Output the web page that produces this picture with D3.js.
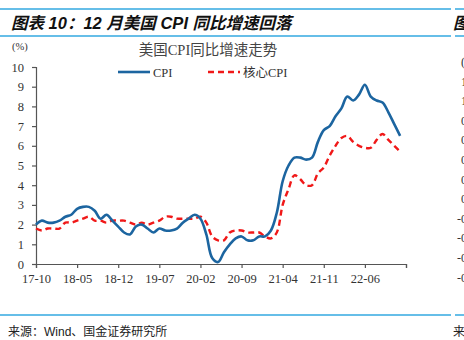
<!DOCTYPE html>
<html>
<head>
<meta charset="utf-8">
<script src="https://cdn.jsdelivr.net/npm/d3@7/dist/d3.min.js"></script>
<style>
  html, body { margin: 0; padding: 0; background: #fff; }
  svg { display: block; }
</style>
</head>
<body>
<svg id="chart" width="464" height="340"></svg>
<script>
// Monthly US CPI and core CPI, year-on-year (%), 2017-10 through 2022-12
const months = [
  "17-10","17-11","17-12",
  "18-01","18-02","18-03","18-04","18-05","18-06","18-07","18-08","18-09","18-10","18-11","18-12",
  "19-01","19-02","19-03","19-04","19-05","19-06","19-07","19-08","19-09","19-10","19-11","19-12",
  "20-01","20-02","20-03","20-04","20-05","20-06","20-07","20-08","20-09","20-10","20-11","20-12",
  "21-01","21-02","21-03","21-04","21-05","21-06","21-07","21-08","21-09","21-10","21-11","21-12",
  "22-01","22-02","22-03","22-04","22-05","22-06","22-07","22-08","22-09","22-10","22-11","22-12"
];
const cpi = [
  2.0, 2.2, 2.1,
  2.1, 2.2, 2.4, 2.5, 2.8, 2.9, 2.9, 2.7, 2.3, 2.5, 2.2, 1.9,
  1.6, 1.5, 1.9, 2.0, 1.8, 1.6, 1.8, 1.7, 1.7, 1.8, 2.1, 2.3,
  2.5, 2.3, 1.5, 0.3, 0.1, 0.6, 1.0, 1.3, 1.4, 1.2, 1.2, 1.4,
  1.4, 1.7, 2.6, 4.2, 5.0, 5.4, 5.4, 5.3, 5.4, 6.2, 6.8, 7.0,
  7.5, 7.9, 8.5, 8.3, 8.6, 9.1, 8.5, 8.3, 8.2, 7.7, 7.1, 6.5
];
const coreCpi = [
  1.8, 1.7, 1.8,
  1.8, 1.8, 2.1, 2.1, 2.2, 2.3, 2.4, 2.2, 2.2, 2.1, 2.2, 2.2,
  2.2, 2.1, 2.0, 2.1, 2.0, 2.1, 2.2, 2.4, 2.4, 2.3, 2.3, 2.3,
  2.3, 2.4, 2.1, 1.4, 1.2, 1.2, 1.6, 1.7, 1.7, 1.6, 1.6, 1.6,
  1.4, 1.3, 1.6, 3.0, 3.8, 4.5, 4.3, 4.0, 4.0, 4.6, 4.9, 5.5,
  6.0, 6.4, 6.5, 6.2, 6.0, 5.9, 5.9, 6.3, 6.6, 6.3, 6.0, 5.7
];
// x-axis ticks every 7 months; the closing tick sits one month past the data
const tickIndex = [0, 7, 14, 21, 28, 35, 42, 49, 56, 63];
const tickLabels = ["17-10","18-05","18-12","19-07","20-02","20-09","21-04","21-11","22-06",""];
const yTicks = [0, 1, 2, 3, 4, 5, 6, 7, 8, 9, 10];
const seriesNames = ["CPI", "核心CPI"];
// labels of the neighbouring panel's right axis, clipped at the page edge
const sideLabels = ["(%)", "1.2", "1.0", "0.8", "0.6", "0.4", "0.2", "0.0", "-0.2", "-0.4", "-0.6", "-0.8"];

const svg = d3.select("#chart");
const rule = "#33a8e0";
const serif = "'Liberation Serif', 'Times New Roman', 'Noto Sans CJK SC', serif";
const sans = "'Liberation Sans', Arial, 'Noto Sans CJK SC', sans-serif";

// header / footer rules
[[9, 0, 451], [9, 455, 464], [36, 0, 451], [36, 455, 464], [315, 0, 451], [315, 455, 464]].forEach(([y, a, b]) => {
  svg.append("line").attr("x1", a).attr("x2", b).attr("y1", y).attr("y2", y)
    .attr("stroke", rule).attr("stroke-width", 1.5);
});

svg.append("text").attr("x", 11).attr("y", 29)
  .attr("font-family", sans).attr("font-size", 16.5).attr("font-style", "italic").attr("font-weight", "bold")
  .attr("fill", "#111").text("图表 10：12 月美国 CPI 同比增速回落");
svg.append("text").attr("x", 453).attr("y", 29)
  .attr("font-family", sans).attr("font-size", 16.5).attr("font-style", "italic").attr("font-weight", "bold")
  .attr("fill", "#111").text("图表");

svg.append("text").attr("x", 8).attr("y", 336)
  .attr("font-family", sans).attr("font-size", 12).attr("fill", "#222")
  .text("来源：Wind、国金证券研究所");
svg.append("text").attr("x", 453).attr("y", 336)
  .attr("font-family", sans).attr("font-size", 12).attr("fill", "#222").text("来源");

// neighbouring axis labels
sideLabels.forEach((t, i) => {
  svg.append("text").attr("x", i === 0 ? 479 : 476).attr("y", 66 + i * 19.6)
    .attr("text-anchor", "end").attr("font-family", serif).attr("font-size", 12)
    .attr("fill", "#333").text(t);
});

// chart body
const x = d3.scaleLinear().domain([0, 63]).range([36, 406]);
const y = d3.scaleLinear().domain([0, 10]).range([264, 67]);

svg.append("text").attr("x", 12).attr("y", 50)
  .attr("font-family", serif).attr("font-size", 10.5).attr("fill", "#333").text("(%)");
svg.append("text").attr("x", 208).attr("y", 55).attr("text-anchor", "middle")
  .attr("font-family", serif).attr("font-size", 14.5).attr("fill", "#444").text("美国CPI同比增速走势");

const yAxis = svg.append("g").attr("transform", "translate(36,0)")
  .call(d3.axisLeft(y).tickValues(yTicks).tickSize(4).tickPadding(8).tickFormat(d3.format("d")));
const xAxis = svg.append("g").attr("transform", "translate(0,264)")
  .call(d3.axisBottom(x).tickValues(tickIndex).tickSize(4).tickPadding(6)
    .tickFormat((d, i) => tickLabels[i]));
[yAxis, xAxis].forEach(g => {
  g.select(".domain").attr("stroke", "#555").attr("stroke-width", 1.2);
  g.selectAll(".tick line").attr("stroke", "#555").attr("stroke-width", 1.2);
  g.selectAll(".tick text").attr("font-family", serif).attr("font-size", 12.5).attr("fill", "#333");
});

const line = d3.line().x((d, i) => x(i)).y(d => y(d)).curve(d3.curveCatmullRom.alpha(0.5));

svg.append("path").datum(coreCpi).attr("d", line)
  .attr("fill", "none").attr("stroke", "#f01818").attr("stroke-width", 2.4)
  .attr("stroke-dasharray", "6,4");
svg.append("path").datum(cpi).attr("d", line)
  .attr("fill", "none").attr("stroke", "#1c65a0").attr("stroke-width", 2.6);

// legend
const legend = [
  { name: seriesNames[0], color: "#1c65a0", dash: null, x0: 118 },
  { name: seriesNames[1], color: "#f01818", dash: "6,4", x0: 208 }
];
legend.forEach(l => {
  svg.append("line").attr("x1", l.x0).attr("x2", l.x0 + 32).attr("y1", 72).attr("y2", 72)
    .attr("stroke", l.color).attr("stroke-width", 2.6).attr("stroke-dasharray", l.dash);
  svg.append("text").attr("x", l.x0 + 35).attr("y", 76.5)
    .attr("font-family", serif).attr("font-size", 12.5).attr("fill", "#333").text(l.name);
});
</script>
</body>
</html>
